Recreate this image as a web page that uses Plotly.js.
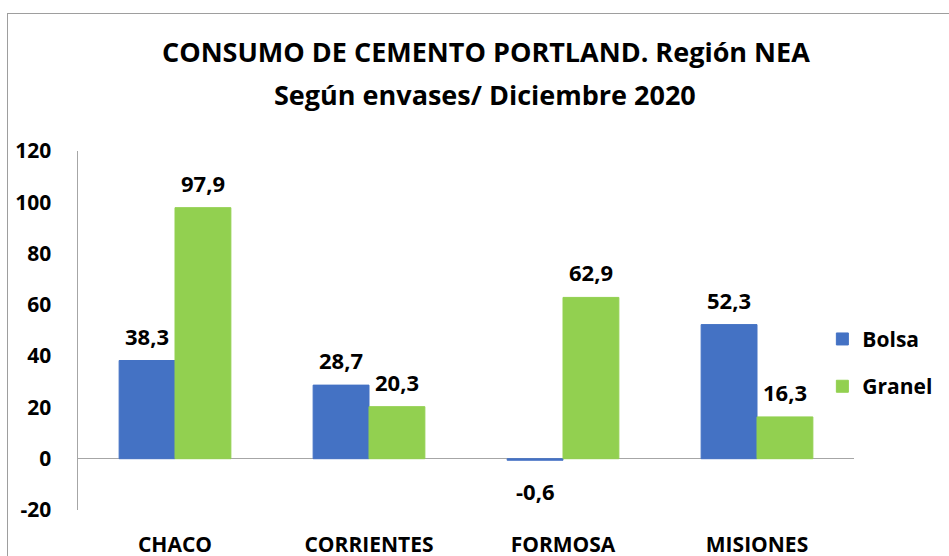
<!DOCTYPE html>
<html><head><meta charset="utf-8">
<script src="https://cdn.plot.ly/plotly-3.0.1.min.js"></script>
<style>
html,body{margin:0;padding:0;background:#fff;}
#wrap{position:relative;width:949px;height:556px;overflow:hidden;}
#chart{position:absolute;left:0;top:0;width:949px;height:556px;}
#frame{position:absolute;left:7px;top:13px;width:1000px;height:600px;border-left:1.5px solid #9e9e9e;border-top:1.5px solid #9e9e9e;pointer-events:none;}
</style></head>
<body><div id="wrap"><div id="chart"></div><div id="frame"></div></div>
<script>
const categories = ["CHACO", "CORRIENTES", "FORMOSA", "MISIONES"];
const bolsa = [38.3, 28.7, -0.6, 52.3];
const granel = [97.9, 20.3, 62.9, 16.3];
const seriesNames = ["Bolsa", "Granel"];
const yTicks = [-20, 0, 20, 40, 60, 80, 100, 120];
const titleLine1 = "CONSUMO DE CEMENTO PORTLAND. Región NEA";
const titleLine2 = "Según envases/ Diciembre 2020";

const FONT = "'Open Sans', sans-serif";
const fmt = v => v.toFixed(1).replace('.', ',');

const traces = [
  {type:'bar', name:seriesNames[0], x:categories, y:bolsa, marker:{color:'#4472C4', line:{color:'#4472C4', width:1}}, legendgroup:'a', hoverinfo:'none'},
  {type:'bar', name:seriesNames[1], x:categories, y:granel, marker:{color:'#92D050', line:{color:'#92D050', width:1}}, legendgroup:'b', hoverinfo:'none'}
];

const barHalf = 28;
const annotations = [];
[[bolsa,-1],[granel,1]].forEach(([arr, side]) => {
  arr.forEach((v,i) => {
    annotations.push({x:categories[i], y:v, xref:'x', yref:'y', text:'<b>'+fmt(v)+'</b>',
      showarrow:false, xshift: side*barHalf, yshift: v >= 0 ? 25 : -31,
      font:{family:FONT, size:22, color:'#000'}});
  });
});
annotations.push({xref:'paper', yref:'paper', x:0.525, y:1.156, xanchor:'center', yanchor:'middle',
  showarrow:false, text:'<b>'+titleLine2+'</b>', font:{family:FONT, size:27, color:'#000'}});

const layout = {
  width:949, height:556,
  margin:{l:78, r:94, t:151, b:46},
  paper_bgcolor:'#fff', plot_bgcolor:'#fff',
  font:{family:FONT, color:'#000'},
  title:{text:'<b>'+titleLine1+'</b>',
    x:0.512, xanchor:'center', y:0.9047, yanchor:'middle', font:{family:FONT, size:27, color:'#000'}},
  barmode:'group', bargap:0.424, bargroupgap:0,
  xaxis:{type:'category', showline:false, showgrid:false, zeroline:false, ticks:'',
    tickfont:{family:FONT, size:21, color:'#000'}, ticklabelstandoff:20, tickprefix:'<b>', ticksuffix:'</b>'},
  yaxis:{range:[-20,120], tickvals:yTicks, ticktext:yTicks.map(v=>'<b>'+v+'</b>'), showgrid:false,
    showline:true, linecolor:'#a6a6a6', linewidth:1.5, zeroline:true, zerolinecolor:'#a6a6a6', zerolinewidth:1.5,
    ticks:'', tickfont:{family:FONT, size:21, color:'#000'}, ticklabelstandoff:21},
  showlegend:true,
  legend:{x:0.958, xanchor:'left', y:0.41, yanchor:'middle', tracegroupgap:17,
    font:{family:FONT, size:21, color:'#000'}, bgcolor:'rgba(0,0,0,0)'},
  annotations: annotations
};
traces.forEach(t=>{ t.name = '<b>'+t.name+'</b>'; });
Plotly.newPlot('chart', traces, layout, {displayModeBar:false, staticPlot:true});
</script></body></html>
